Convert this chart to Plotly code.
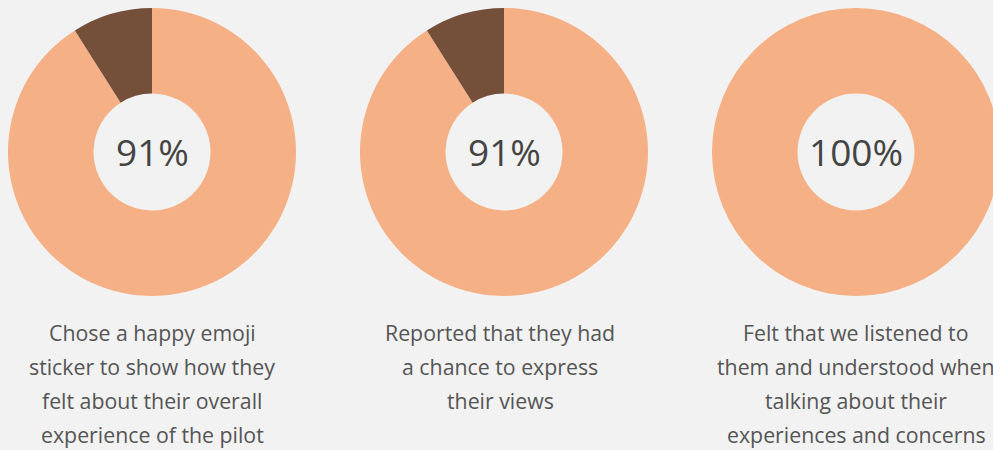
import plotly.graph_objects as go

# Data
percent_yes = [91, 91, 100]
percent_no = [9, 9, 0]
center_labels = ["91%", "91%", "100%"]
captions = [
    ["Chose a happy emoji", "sticker to show how they", "felt about their overall", "experience of the pilot"],
    ["Reported that they had", "a chance to express", "their views"],
    ["Felt that we listened to", "them and understood when", "talking about their", "experiences and concerns"],
]
slice_labels = ["Yes", "No"]

W, H = 1000, 450
BG = "#f2f2f2"
PEACH = "#f5b086"
BROWN = "#74503a"

centers_px = [152, 504, 856]
caption_x_px = [152, 500, 856]
cy_px = 152
R = 144

fig = go.Figure()
for i, cx in enumerate(centers_px):
    fig.add_trace(go.Pie(
        values=[percent_yes[i], percent_no[i]],
        labels=slice_labels,
        sort=False,
        direction="clockwise",
        rotation=0,
        hole=0.406,
        textinfo="none",
        hoverinfo="label+value",
        marker=dict(colors=[PEACH, BROWN], line=dict(width=0)),
        domain=dict(x=[(cx - R) / W, (cx + R) / W],
                    y=[(H - cy_px - R) / H, (H - cy_px + R) / H]),
        showlegend=False,
    ))
    fig.add_annotation(
        x=cx / W, y=(H - cy_px) / H, xref="paper", yref="paper",
        text=center_labels[i], showarrow=False,
        font=dict(family="Open Sans", size=37, color="#444444"),
        xanchor="center", yanchor="middle",
    )
    for j, line in enumerate(captions[i]):
        baseline = 339 + 34 * j
        fig.add_annotation(
            x=caption_x_px[i] / W, y=(H - (baseline - 7)) / H, xref="paper", yref="paper",
            text=line, showarrow=False,
            font=dict(family="Open Sans", size=21.3, color="#555555"),
            xanchor="center", yanchor="middle",
        )

fig.update_layout(
    width=W, height=H,
    margin=dict(l=0, r=0, t=0, b=0),
    paper_bgcolor=BG, plot_bgcolor=BG,
)

fig.write_html("out.html", post_script="document.body.style.margin='0';document.body.style.overflow='hidden';")
